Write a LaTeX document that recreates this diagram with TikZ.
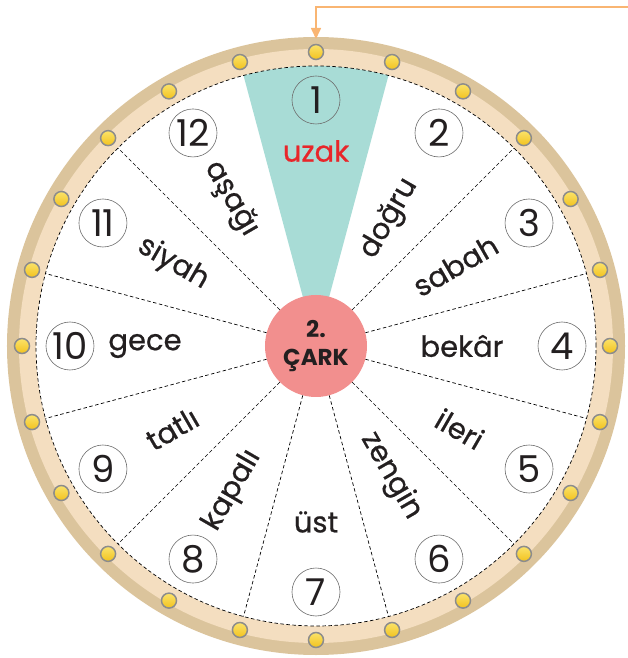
\documentclass[tikz,border=0pt]{standalone}
\usepackage{fontspec}
\setmainfont{Poppins}
\usetikzlibrary{arrows.meta}
\definecolor{rimtan}{HTML}{DBC49C}
\definecolor{rimlight}{HTML}{F4DEC0}
\definecolor{sectorteal}{HTML}{A8DCD6}
\definecolor{hubred}{HTML}{F28F8E}
\definecolor{wordred}{HTML}{E8262A}
\definecolor{inkgray}{HTML}{231F20}
\definecolor{ringgray}{HTML}{6E6E6E}
\definecolor{boltgray}{HTML}{8C8C8C}
\definecolor{boltyellow}{HTML}{F2C21E}
\definecolor{boltlight}{HTML}{FBE36A}
\definecolor{pointerorange}{HTML}{F9B572}

\begin{document}
\begin{tikzpicture}[x=1pt, y=1pt,
    divider/.style={draw=black, line width=0.7pt, dash pattern=on 3.5pt off 2.5pt},
    bolt/.style={circle, draw=boltgray, line width=1.5pt, top color=boltlight, bottom color=boltyellow, minimum size=15pt, inner sep=0pt},
    num/.style={circle, draw=ringgray, line width=0.6pt, minimum size=48pt, inner sep=0pt, text=inkgray, font=\fontsize{37}{37}\selectfont},
    word/.style={inner sep=0pt, text=inkgray, font=\fontsize{29}{29}\selectfont\addfontfeature{FakeBold=0.7}},
    hub/.style={circle, fill=hubred, minimum size=102pt, inner sep=0pt, align=center, text=inkgray, font=\bfseries\fontsize{23}{28}\selectfont}
]
\useasboundingbox (-316,-312) rectangle (312,346);

% rim
\fill[rimtan] (0,0) circle (309);
\fill[rimlight] (0,0) circle (297);
\fill[white] (0,0) circle (280);
\fill[sectorteal] (0,0) -- (75:280) arc[start angle=75, end angle=105, radius=280] -- cycle;
\draw[divider] (0,0) circle (280);

\node[hub] (hub) at (0,0) {2.\\ÇARK};

% sector lines
\foreach \a in {15,45,135,165,195,225,255,285,315,345} {
    \coordinate (rim\a) at (\a:280);
    \draw[divider] (hub.\a) -- (rim\a);
}

% bolts
\foreach \k in {0,...,23}
    \node[bolt] (bolt\k) at ({90+15*\k}:294) {};

% numbers
\foreach \n in {1,...,12}
    \node[num] (num\n) at ({90-30*(\n-1)}:246) {\n};

% words
\node[word, text=wordred] (w1) at (90:195) {uzak};
\foreach \w/\n/\r/\rot in {doğru/2/147/60, sabah/3/161/30, bekâr/4/146/0, ileri/5/166/-30,
    zengin/6/150/-60, üst/7/176/0, kapalı/8/167/60, tatlı/9/166/30,
    gece/10/171/0, siyah/11/165/-30, aşağı/12/170/-60}
    \node[word, rotate=\rot] (w\n) at ({90-30*(\n-1)}:\r) {\w};

% pointer
\coordinate (feed) at (312,339);
\coordinate (pointer) at (90:307);
\draw[pointerorange, line width=1.6pt, -{Triangle[width=10pt,length=11pt]}] (feed) -| (pointer);
\end{tikzpicture}
\end{document}
